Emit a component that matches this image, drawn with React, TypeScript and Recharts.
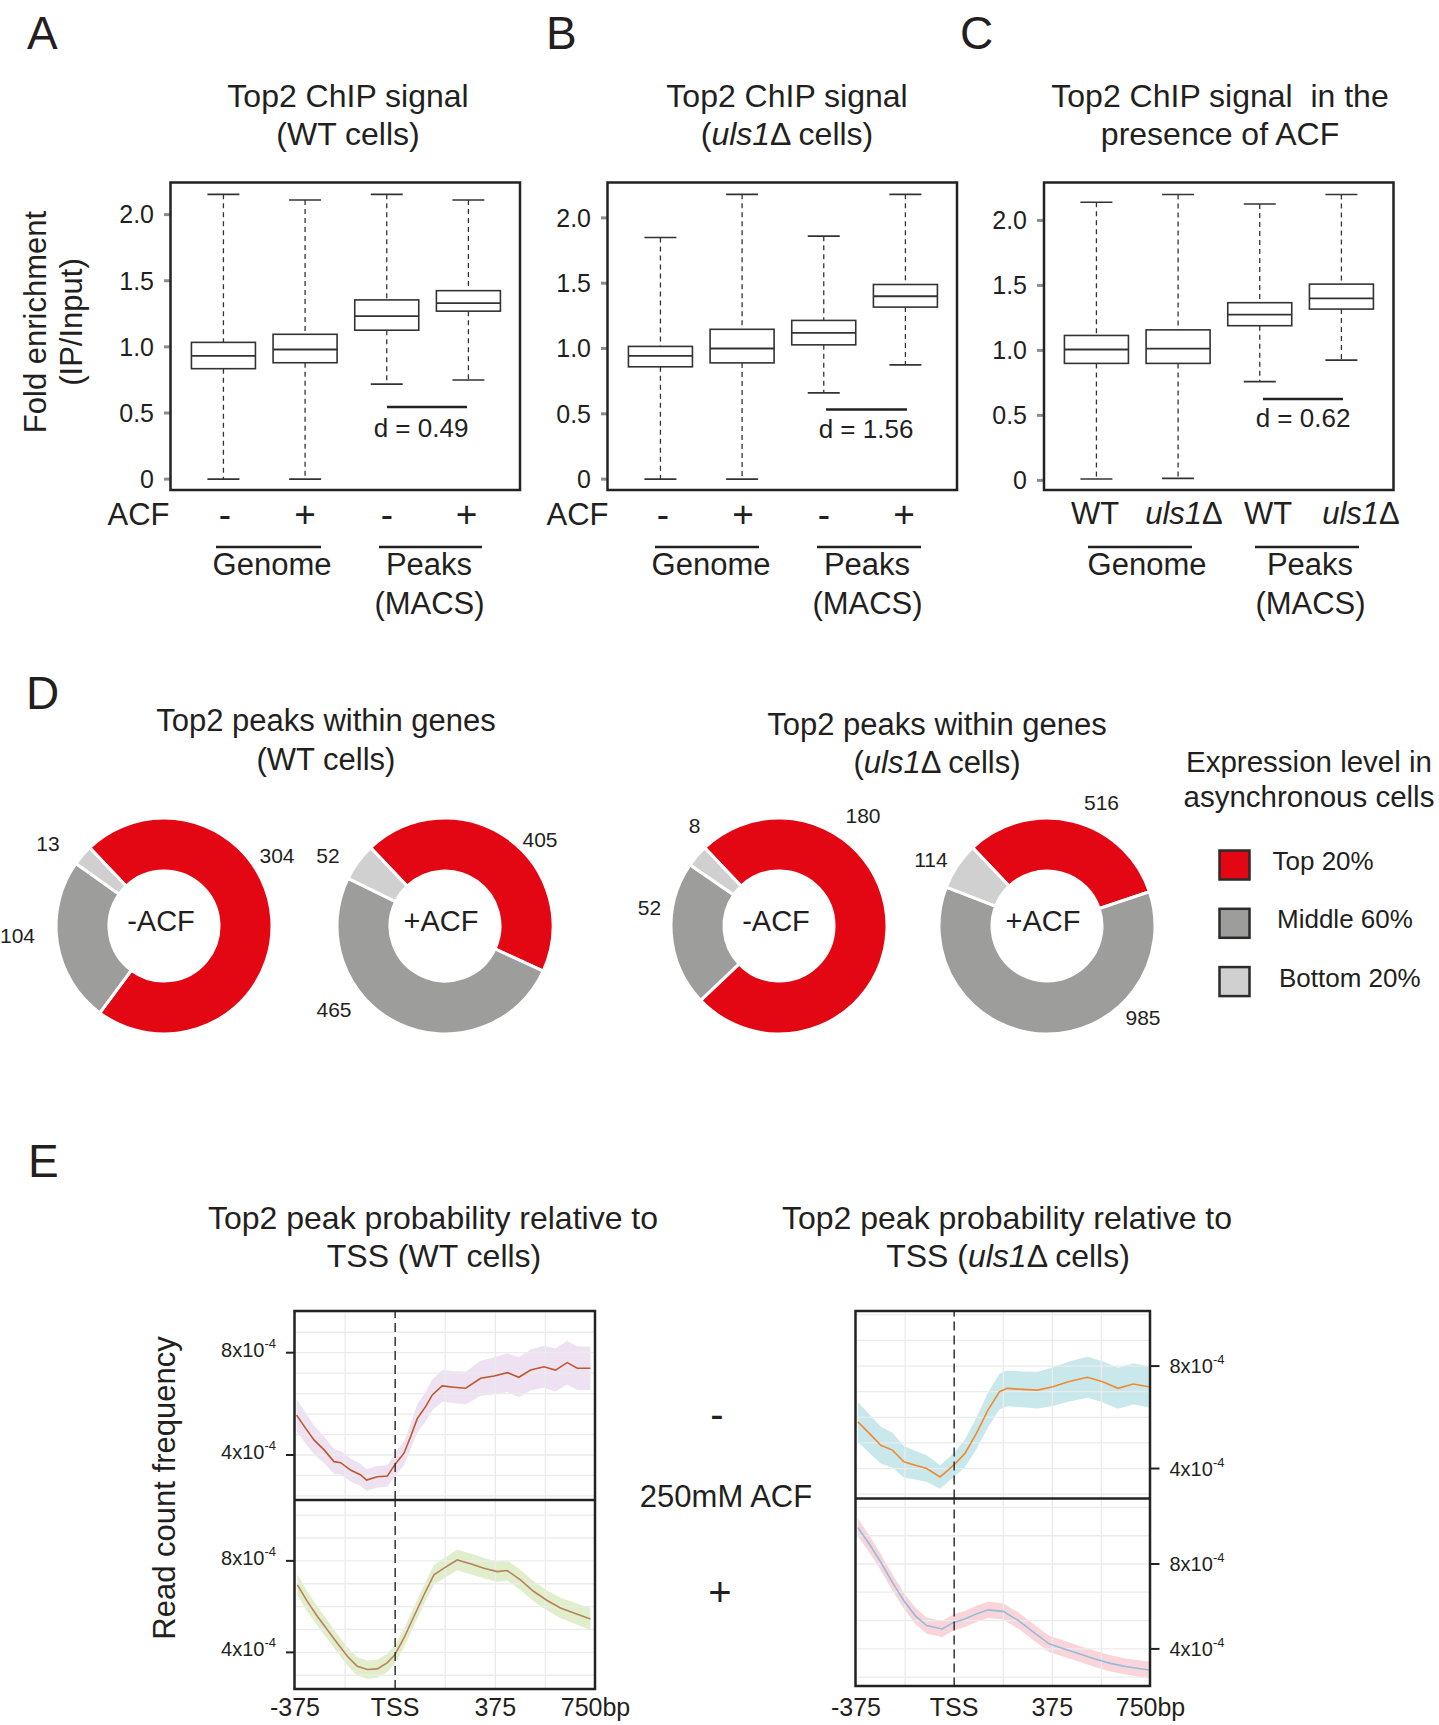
import React from "react";
import {
  ComposedChart,
  Bar,
  XAxis,
  YAxis,
  Line,
  Area,
  ReferenceLine,
  PieChart,
  Pie,
  Cell,
} from "recharts";

const FONT = "'Liberation Sans', Arial, Helvetica, sans-serif";
const INK = "#231f20";

// ---- Panels A-C: box plots, each row = [min, q1, median, q3, max]
const boxTicks = [0, 0.5, 1, 1.5, 2];
const boxWT = [
  [0, 0.835, 0.932, 1.034, 2.153],
  [0, 0.88, 0.98, 1.095, 2.11],
  [0.718, 1.126, 1.232, 1.355, 2.153],
  [0.75, 1.27, 1.33, 1.425, 2.11],
];
const boxUls1 = [
  [0, 0.86, 0.944, 1.016, 1.85],
  [0, 0.89, 1.0, 1.147, 2.18],
  [0.66, 1.028, 1.12, 1.215, 1.86],
  [0.875, 1.317, 1.4, 1.49, 2.18],
];
const boxACF = [
  [0.01, 0.9, 1.007, 1.115, 2.14],
  [0.015, 0.9, 1.014, 1.158, 2.2],
  [0.76, 1.19, 1.275, 1.367, 2.126],
  [0.925, 1.318, 1.4, 1.51, 2.2],
];
const effectSizes = ["0.49", "1.56", "0.62"];

// ---- Panel D: peak counts per expression tier (top, middle, bottom)
const tierNames = ["Top 20%", "Middle 60%", "Bottom 20%"];
const tierColors = ["#e30613", "#9d9d9c", "#d0d0d0"];
const peaksWTminus = [304, 104, 13];
const peaksWTplus = [405, 465, 52];
const peaksUlsMinus = [180, 52, 8];
const peaksUlsPlus = [516, 985, 114];

// ---- Panel E: read count frequency (x10^-4) around TSS (bp)
const eTicks = [-375, 0, 375, 750];
const eGridX = [-187.5, 187.5, 375, 562.5];

const wtMinusX = [-369, -335, -304, -266, -229, -204, -167, -129, -107, -67, -29, 2, 33, 58, 83, 114, 139, 176, 220, 264, 320, 370, 420, 463, 507, 557, 600, 644, 682, 731];
const wtMinusMean = [5.56, 5.04, 4.59, 4.2, 3.74, 3.7, 3.41, 3.22, 3.02, 3.15, 3.18, 3.67, 4.07, 4.72, 5.43, 5.89, 6.35, 6.7, 6.65, 6.61, 7.0, 7.09, 7.22, 7.04, 7.32, 7.45, 7.32, 7.61, 7.39, 7.39];
const wtMinusSe = [0.62, 0.6, 0.56, 0.52, 0.48, 0.46, 0.45, 0.43, 0.42, 0.42, 0.42, 0.44, 0.47, 0.5, 0.55, 0.58, 0.6, 0.62, 0.62, 0.64, 0.68, 0.72, 0.76, 0.78, 0.8, 0.82, 0.84, 0.85, 0.85, 0.85];

const wtPlusX = [-366, -329, -291, -254, -217, -179, -142, -104, -67, -30, -1, 33, 70, 108, 145, 183, 232, 282, 332, 382, 419, 469, 519, 569, 619, 669, 731];
const wtPlusMean = [6.95, 6.23, 5.57, 4.99, 4.41, 3.83, 3.39, 3.25, 3.28, 3.54, 3.9, 4.63, 5.57, 6.52, 7.39, 7.68, 8.04, 7.87, 7.68, 7.53, 7.58, 7.17, 6.66, 6.27, 5.94, 5.72, 5.46];
const wtPlusSe = [0.46, 0.44, 0.42, 0.41, 0.4, 0.4, 0.4, 0.4, 0.4, 0.4, 0.4, 0.4, 0.41, 0.42, 0.43, 0.44, 0.45, 0.45, 0.44, 0.44, 0.44, 0.44, 0.44, 0.44, 0.45, 0.46, 0.48];

const ulsMinusX = [-368, -324, -280, -236, -192, -149, -105, -54, -24, 5, 41, 85, 129, 173, 202, 261, 319, 377, 436, 509, 567, 626, 684, 743];
const ulsMinusMean = [5.82, 5.37, 4.91, 4.72, 4.26, 4.13, 4.0, 3.67, 3.93, 4.2, 4.59, 5.37, 6.28, 7.0, 7.13, 7.09, 7.06, 7.19, 7.39, 7.56, 7.39, 7.13, 7.3, 7.19];
const ulsMinusSe = [0.78, 0.75, 0.72, 0.68, 0.62, 0.56, 0.52, 0.46, 0.46, 0.48, 0.54, 0.62, 0.68, 0.7, 0.7, 0.7, 0.72, 0.75, 0.78, 0.8, 0.8, 0.8, 0.8, 0.8];

const ulsPlusX = [-368, -324, -280, -236, -192, -149, -105, -46, -2, 41, 85, 129, 187, 246, 304, 363, 421, 480, 538, 597, 655, 743];
const ulsPlusMean = [9.72, 8.94, 8.08, 7.13, 6.27, 5.57, 5.1, 4.94, 5.25, 5.41, 5.65, 5.84, 5.77, 5.33, 4.78, 4.24, 4.0, 3.76, 3.53, 3.32, 3.17, 3.01];
const ulsPlusSe = [0.42, 0.4, 0.38, 0.38, 0.38, 0.38, 0.38, 0.38, 0.38, 0.38, 0.38, 0.38, 0.38, 0.38, 0.38, 0.38, 0.38, 0.38, 0.38, 0.38, 0.38, 0.4];

const gridWTminus = [2.4, 3.2, 4, 4.8, 5.6, 6.4, 7.2, 8, 8.8, 9.6];
const gridWTplus = [3, 4, 5, 6, 7, 8, 9, 10];
const gridUlsMinus = [3, 4, 5, 6, 7, 8, 9, 10];
const gridUlsPlus = [2.67, 4, 5.33, 6.67, 8, 9.33, 10.67];

type Rect = { x: number; y: number; w: number; h: number };

function BoxShape(props: any) {
  const { x, y, width, height, payload } = props;
  const [lo, q1, med, q3, hi] = payload.stats;
  const top = Math.min(y, y + height);
  const k = Math.abs(height) / (hi - lo);
  const py = (v: number) => top + (hi - v) * k;
  const cx = x + width / 2;
  const cap = width / 4;
  const c = "#333";
  return (
    <g>
      <line x1={cx} x2={cx} y1={py(hi)} y2={py(q3)} stroke={c} strokeWidth={1.3} strokeDasharray="5 4" />
      <line x1={cx} x2={cx} y1={py(q1)} y2={py(lo)} stroke={c} strokeWidth={1.3} strokeDasharray="5 4" />
      <line x1={cx - cap} x2={cx + cap} y1={py(hi)} y2={py(hi)} stroke={c} strokeWidth={1.6} />
      <line x1={cx - cap} x2={cx + cap} y1={py(lo)} y2={py(lo)} stroke={c} strokeWidth={1.6} />
      <rect x={x} y={py(q3)} width={width} height={py(q1) - py(q3)} fill="#fff" stroke={c} strokeWidth={1.6} />
      <line x1={x} x2={x + width} y1={py(med)} y2={py(med)} stroke={c} strokeWidth={1.8} />
    </g>
  );
}

function BoxPanel({ frame, stats, domain }: { frame: Rect; stats: number[][]; domain: [number, number] }) {
  const AXW = 100;
  const M = 18;
  const rows = stats.map((s, i) => ({ key: `g${i}`, range: [s[0], s[4]], stats: s }));
  const pad = frame.w * 0.0327;
  return (
    <div style={{ position: "absolute", left: frame.x - AXW, top: frame.y - M }}>
      <ComposedChart width={frame.w + AXW} height={frame.h + 2 * M} data={rows} margin={{ top: M, right: 0, bottom: M, left: 0 }}>
        <XAxis dataKey="key" hide padding={{ left: pad, right: pad }} />
        <YAxis
          width={AXW}
          domain={domain}
          allowDataOverflow
          ticks={boxTicks}
          interval={0}
          tickFormatter={(v: number) => (v === 0 ? "0" : v.toFixed(1))}
          tickSize={7}
          tickMargin={10}
          axisLine={false}
          tickLine={{ stroke: "#8c8c8c", strokeWidth: 3 }}
          tick={{ fontSize: 25, fill: INK, fontFamily: FONT }}
        />
        <Bar dataKey="range" barSize={64} shape={(p: any) => <BoxShape {...p} />} isAnimationActive={false} />
      </ComposedChart>
    </div>
  );
}

function ETick(props: any) {
  const { x, y, payload, side } = props;
  return (
    <text x={x} y={y} dy={side === "left" ? 4 : 7} textAnchor={side === "left" ? "end" : "start"} fontSize={20} fill={INK} fontFamily={FONT}>
      {`${payload.value}x10`}
      <tspan dy={-9} fontSize={13}>-4</tspan>
    </text>
  );
}

function Facet(props: {
  rect: Rect;
  xs: number[];
  mean: number[];
  se: number[];
  domain: [number, number];
  grid: number[];
  line: string;
  ribbon: string;
  side: "left" | "right";
  showX: boolean;
}) {
  const { rect, xs, mean, se, domain, grid, line, ribbon, side, showX } = props;
  const AXW = 90;
  const EXTRA = 45;
  const XH = showX ? 40 : 0;
  const rows = xs.map((x, i) => ({ x, mean: mean[i], band: [mean[i] - se[i], mean[i] + se[i]] }));
  const left = side === "left" ? rect.x - AXW : rect.x - EXTRA;
  const margin = side === "left" ? { top: 0, right: EXTRA, bottom: 0, left: 0 } : { top: 0, right: 0, bottom: 0, left: EXTRA };
  return (
    <div style={{ position: "absolute", left, top: rect.y }}>
      <ComposedChart width={rect.w + AXW + EXTRA} height={rect.h + XH} data={rows} margin={margin}>
        <XAxis
          type="number"
          dataKey="x"
          domain={[-375, 750]}
          allowDataOverflow
          ticks={eTicks}
          interval={0}
          hide={!showX}
          height={XH}
          axisLine={false}
          tickLine={false}
          tickSize={0}
          tickMargin={side === "left" ? 9 : 12}
          tickFormatter={(v: number) => (v === 0 ? "TSS" : v === 750 ? "750bp" : String(v))}
          tick={{ fontSize: 25, fill: INK, fontFamily: FONT }}
        />
        <YAxis
          orientation={side}
          width={AXW}
          domain={domain}
          allowDataOverflow
          ticks={[4, 8]}
          interval={0}
          tickSize={9}
          tickMargin={10}
          axisLine={false}
          tickLine={{ stroke: "#222", strokeWidth: 2 }}
          tick={(p: any) => <ETick {...p} side={side} />}
        />
        {grid.map((v) => (
          <ReferenceLine key={`h${v}`} y={v} stroke="#ebebeb" strokeWidth={1.3} />
        ))}
        {eGridX.map((v) => (
          <ReferenceLine key={`v${v}`} x={v} stroke="#ebebeb" strokeWidth={1.3} />
        ))}
        <Area type="linear" dataKey="band" fill={ribbon} fillOpacity={0.85} stroke="none" isAnimationActive={false} />
        <Line type="linear" dataKey="mean" stroke={line} strokeWidth={1.6} dot={false} isAnimationActive={false} />
        <ReferenceLine x={0} stroke="#333" strokeWidth={1.5} strokeDasharray="9 5" />
      </ComposedChart>
    </div>
  );
}

function Donut({ cx, cy, values }: { cx: number; cy: number; values: number[] }) {
  const rows = values.map((v, i) => ({ name: tierNames[i], value: v }));
  const S = 240;
  return (
    <div style={{ position: "absolute", left: cx - S / 2, top: cy - S / 2 }}>
      <PieChart width={S} height={S} margin={{ top: 0, right: 0, bottom: 0, left: 0 }}>
        <Pie
          data={rows}
          dataKey="value"
          cx={S / 2}
          cy={S / 2}
          innerRadius={55}
          outerRadius={108}
          startAngle={133.5}
          endAngle={-226.5}
          stroke="#fff"
          strokeWidth={3}
          isAnimationActive={false}
        >
          {rows.map((r, i) => (
            <Cell key={r.name} fill={tierColors[i]} />
          ))}
        </Pie>
      </PieChart>
    </div>
  );
}

const Uls = () => (
  <>
    <tspan fontStyle="italic">uls1</tspan>Δ
  </>
);

function T(props: { x: number; y: number; s: number; a?: "start" | "middle" | "end"; rot?: boolean; children: React.ReactNode }) {
  const { x, y, s, a = "middle", rot, children } = props;
  return (
    <text
      x={rot ? 0 : x}
      y={rot ? 0 : y}
      transform={rot ? `translate(${x},${y}) rotate(-90)` : undefined}
      fontSize={s}
      textAnchor={a}
      fill={INK}
      fontFamily={FONT}
    >
      {children}
    </text>
  );
}

const boxFrames: Rect[] = [
  { x: 170.5, y: 182.5, w: 349.5, h: 307.5 },
  { x: 607.5, y: 182.5, w: 349.5, h: 307.5 },
  { x: 1044, y: 182.5, w: 349.5, h: 307.5 },
];

export default function App() {
  const fA = boxFrames[0];
  const fB = boxFrames[1];
  const fC = boxFrames[2];
  return (
    <div style={{ position: "absolute", left: 0, top: 0, width: 1439, height: 1725, background: "#fff", overflow: "hidden" }}>
      <BoxPanel frame={fA} stats={boxWT} domain={[-0.086, 2.239]} />
      <BoxPanel frame={fB} stats={boxUls1} domain={[-0.087, 2.267]} />
      <BoxPanel frame={fC} stats={boxACF} domain={[-0.078, 2.288]} />

      <Donut cx={163.5} cy={926} values={peaksWTminus} />
      <Donut cx={444.5} cy={926} values={peaksWTplus} />
      <Donut cx={779} cy={926} values={peaksUlsMinus} />
      <Donut cx={1047} cy={926} values={peaksUlsPlus} />

      <Facet rect={{ x: 294.5, y: 1311, w: 300.5, h: 189 }} xs={wtMinusX} mean={wtMinusMean} se={wtMinusSe} domain={[2.24, 9.63]} grid={gridWTminus} line="#c0562e" ribbon="#eadcf0" side="left" showX={false} />
      <Facet rect={{ x: 294.5, y: 1500, w: 300.5, h: 189 }} xs={wtPlusX} mean={wtPlusMean} se={wtPlusSe} domain={[2.4, 10.66]} grid={gridWTplus} line="#b8825a" ribbon="#dcebc3" side="left" showX={true} />
      <Facet rect={{ x: 855.5, y: 1311, w: 294.5, h: 187.5 }} xs={ulsMinusX} mean={ulsMinusMean} se={ulsMinusSe} domain={[2.83, 10.15]} grid={gridUlsMinus} line="#f08a2e" ribbon="#bfe4e9" side="right" showX={false} />
      <Facet rect={{ x: 855.5, y: 1498.5, w: 294.5, h: 187.5 }} xs={ulsPlusX} mean={ulsPlusMean} se={ulsPlusSe} domain={[2.23, 11.06]} grid={gridUlsPlus} line="#93bcdd" ribbon="#f8ccd2" side="right" showX={true} />

      <svg width={1439} height={1725} style={{ position: "absolute", left: 0, top: 0, pointerEvents: "none" }}>
        {/* panel letters */}
        <T x={27} y={49} s={46} a="start">A</T>
        <T x={546} y={49} s={46} a="start">B</T>
        <T x={960} y={49} s={46} a="start">C</T>
        <T x={26} y={709} s={46} a="start">D</T>
        <T x={28} y={1177} s={46} a="start">E</T>

        {/* box plot frames */}
        {boxFrames.map((f, i) => (
          <rect key={i} x={f.x} y={f.y} width={f.w} height={f.h} fill="none" stroke="#222" strokeWidth={2.5} />
        ))}

        {/* panel A-C titles */}
        <T x={348} y={107} s={32}>Top2 ChIP signal</T>
        <T x={348} y={145} s={32}>(WT cells)</T>
        <T x={787} y={107} s={32}>Top2 ChIP signal</T>
        <T x={787} y={145} s={32}>(<Uls /> cells)</T>
        <T x={1220} y={107} s={32}>{"Top2 ChIP signal\u00a0 in the"}</T>
        <T x={1220} y={145} s={32}>presence of ACF</T>

        <T x={46} y={322} s={31} rot>Fold enrichment</T>
        <T x={81.5} y={322} s={31} rot>(IP/Input)</T>

        {/* effect sizes */}
        <line x1={387} x2={467} y1={407} y2={407} stroke="#222" strokeWidth={2.5} />
        <T x={421} y={437} s={26}>{`d = ${effectSizes[0]}`}</T>
        <line x1={826} x2={907} y1={409.5} y2={409.5} stroke="#222" strokeWidth={2.5} />
        <T x={866} y={438} s={26}>{`d = ${effectSizes[1]}`}</T>
        <line x1={1263} x2={1343} y1={399} y2={399} stroke="#222" strokeWidth={2.5} />
        <T x={1303} y={427} s={26}>{`d = ${effectSizes[2]}`}</T>

        {/* A/B group labels */}
        <T x={107.5} y={525} s={31} a="start">ACF</T>
        <T x={546.5} y={525} s={31} a="start">ACF</T>
        {[225, 305, 387, 466.5, 663, 743, 824, 904].map((x, i) => (
          <T key={i} x={x} y={527} s={37}>{i % 2 === 0 ? "-" : "+"}</T>
        ))}
        <T x={1095} y={524} s={31}>WT</T>
        <T x={1184} y={524} s={31}><Uls /></T>
        <T x={1268} y={524} s={31}>WT</T>
        <T x={1361} y={524} s={31}><Uls /></T>

        {[[216, 321], [379, 482], [655, 759], [817, 921], [1088, 1192], [1255, 1359]].map(([a, b], i) => (
          <line key={i} x1={a} x2={b} y1={547} y2={547} stroke="#222" strokeWidth={2.5} />
        ))}
        {[272, 711, 1147].map((x) => (
          <T key={x} x={x} y={575} s={31}>Genome</T>
        ))}
        {[429, 867, 1310].map((x) => (
          <g key={x}>
            <T x={x} y={575} s={31}>Peaks</T>
            <T x={x + 0.5} y={614} s={31}>(MACS)</T>
          </g>
        ))}

        {/* panel D */}
        <T x={326} y={731} s={31}>Top2 peaks within genes</T>
        <T x={326} y={770} s={31}>(WT cells)</T>
        <T x={937} y={735} s={31}>Top2 peaks within genes</T>
        <T x={937} y={773} s={31}>(<Uls /> cells)</T>
        <T x={1309} y={772} s={29.5}>Expression level in</T>
        <T x={1309} y={807} s={29.5}>asynchronous cells</T>

        <T x={161} y={931} s={29}>-ACF</T>
        <T x={441} y={931} s={29}>+ACF</T>
        <T x={776} y={931} s={29}>-ACF</T>
        <T x={1043} y={931} s={29}>+ACF</T>

        <T x={277} y={863} s={21}>{peaksWTminus[0]}</T>
        <T x={17.5} y={943} s={21}>{peaksWTminus[1]}</T>
        <T x={48} y={851} s={21}>{peaksWTminus[2]}</T>
        <T x={540} y={846.5} s={21}>{peaksWTplus[0]}</T>
        <T x={334} y={1016.5} s={21}>{peaksWTplus[1]}</T>
        <T x={328} y={863} s={21}>{peaksWTplus[2]}</T>
        <T x={863} y={823} s={21}>{peaksUlsMinus[0]}</T>
        <T x={649.5} y={915} s={21}>{peaksUlsMinus[1]}</T>
        <T x={694.5} y={833} s={21}>{peaksUlsMinus[2]}</T>
        <T x={1101.5} y={810} s={21}>{peaksUlsPlus[0]}</T>
        <T x={1143} y={1025} s={21}>{peaksUlsPlus[1]}</T>
        <T x={931} y={866.5} s={21}>{peaksUlsPlus[2]}</T>

        {tierNames.map((n, i) => (
          <g key={n}>
            <rect x={1219.5} y={850.5 + i * 58.3} width={30} height={29} fill={tierColors[i]} stroke="#2b2b2b" strokeWidth={2.5} />
            <T x={[1272.5, 1277, 1279][i]} y={870 + i * 58.4} s={26} a="start">{n}</T>
          </g>
        ))}

        {/* panel E */}
        <T x={433} y={1229} s={32}>Top2 peak probability relative to</T>
        <T x={434} y={1267} s={32}>TSS (WT cells)</T>
        <T x={1007} y={1229} s={32}>Top2 peak probability relative to</T>
        <T x={1008} y={1267} s={32}>TSS (<Uls /> cells)</T>
        <T x={175} y={1488} s={31} rot>Read count frequency</T>

        <T x={717} y={1428} s={40}>-</T>
        <T x={726} y={1507} s={31}>250mM ACF</T>
        <T x={720} y={1606} s={40}>+</T>

        <rect x={294.5} y={1311} width={300.5} height={378} fill="none" stroke="#222" strokeWidth={2.5} />
        <line x1={294.5} x2={595} y1={1500} y2={1500} stroke="#222" strokeWidth={2.5} />
        <rect x={855.5} y={1311} width={294.5} height={375} fill="none" stroke="#222" strokeWidth={2.5} />
        <line x1={855.5} x2={1150} y1={1498.5} y2={1498.5} stroke="#222" strokeWidth={2.5} />
      </svg>
    </div>
  );
}
